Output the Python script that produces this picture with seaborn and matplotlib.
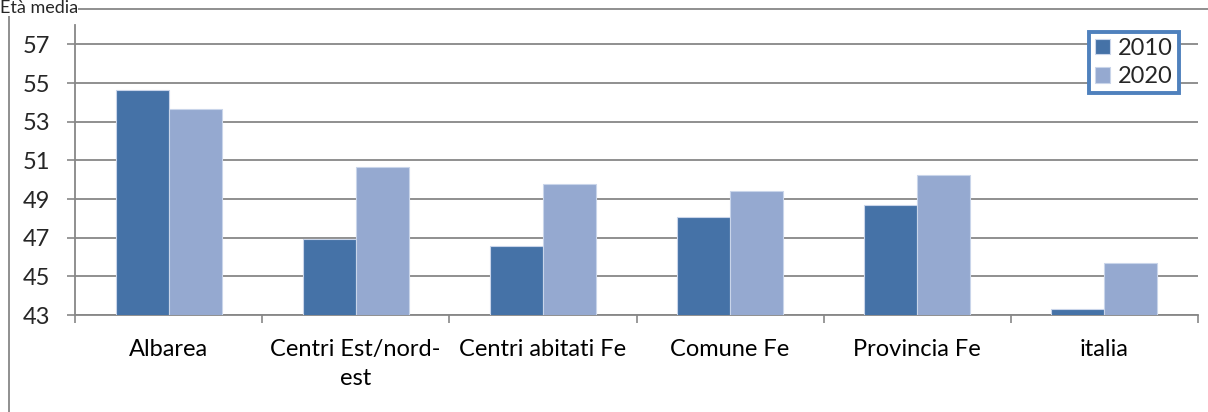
import pandas as pd
import numpy as np
import matplotlib
matplotlib.use("Agg")
import matplotlib.pyplot as plt
import seaborn as sns
from matplotlib.lines import Line2D

# data
categories = ["Albarea", "Centri Est/nord-est", "Centri abitati Fe", "Comune Fe", "Provincia Fe", "italia"]
tick_labels = ["Albarea", "Centri Est/nord-\nest", "Centri abitati Fe", "Comune Fe", "Provincia Fe", "italia"]
years = ["2010", "2020"]
values_2010 = [54.64, 46.92, 46.59, 48.09, 48.69, 43.29]
values_2020 = [53.64, 50.67, 49.78, 49.40, 50.24, 45.67]
y_ticks = [43, 45, 47, 49, 51, 53, 55, 57]

df = pd.DataFrame({
    "luogo": categories * 2,
    "anno": [years[0]] * len(categories) + [years[1]] * len(categories),
    "eta": values_2010 + values_2020,
})

sns.set_theme(style="white")
plt.rcParams["font.family"] = ["Lato", "DejaVu Sans"]

GRAY = "#878787"
FS = 17

fig = plt.figure(figsize=(12.08, 4.12), dpi=100)
ax = fig.add_axes([75 / 1208, 1 - 315 / 412, 1123 / 1208, 290 / 412])

sns.barplot(data=df, x="luogo", y="eta", hue="anno", order=categories,
            palette=["#4572A7", "#95A9D0"], saturation=1, width=0.567, ax=ax,
            edgecolor="#c9d5ea", linewidth=0.8, zorder=3)

ax.set_ylim(43, 58)
ax.set_xlim(-0.5, 5.5)
ax.set_yticks(y_ticks)
ax.set_yticklabels([str(t) for t in y_ticks], fontsize=FS)
ax.set_xticks(range(len(categories)))
ax.set_xticklabels(tick_labels, fontsize=FS, linespacing=1.5)
ax.set_xticks(np.arange(-0.5, 6, 1), minor=True)
ax.tick_params(axis="x", which="major", length=0, pad=17, colors="black")
ax.tick_params(axis="x", which="minor", length=5.5, width=1.2, color=GRAY, bottom=True)
ax.tick_params(axis="y", length=6, width=1.2, color=GRAY, pad=12, left=True)
ax.set_xlabel("")
ax.set_ylabel("")

ax.grid(axis="y", color=GRAY, linewidth=1.3, zorder=0)
ax.set_axisbelow(True)
for side in ["top", "right"]:
    ax.spines[side].set_visible(False)
for side in ["left", "bottom"]:
    ax.spines[side].set_color(GRAY)
    ax.spines[side].set_linewidth(1.3)

handles, labels = ax.get_legend_handles_labels()
leg = ax.legend(handles, labels, loc="upper right", bbox_to_anchor=(0.983, 0.976),
                borderaxespad=0, fontsize=FS, frameon=True, fancybox=False,
                handlelength=0.65, handleheight=0.65, handletextpad=0.35,
                labelspacing=0.3, borderpad=0.25)
leg.get_frame().set_edgecolor("#4F81BD")
leg.get_frame().set_linewidth(2.8)
leg.get_frame().set_facecolor("white")
leg.get_frame().set_alpha(1)

# outer chart frame (only top and left edges visible)
fig.add_artist(Line2D([9 / 1208, 1.1], [1 - 9 / 412, 1 - 9 / 412], color=GRAY, linewidth=1.3,
                      transform=fig.transFigure))
fig.add_artist(Line2D([9 / 1208, 9 / 1208], [-0.1, 1 - 9 / 412], color=GRAY, linewidth=1.3,
                      transform=fig.transFigure))

fig.text(0.0, 1.0, "Età media", fontsize=13, va="top", ha="left",
         bbox=dict(facecolor="white", edgecolor="none", pad=0))

fig.savefig("out.png", dpi=100)
